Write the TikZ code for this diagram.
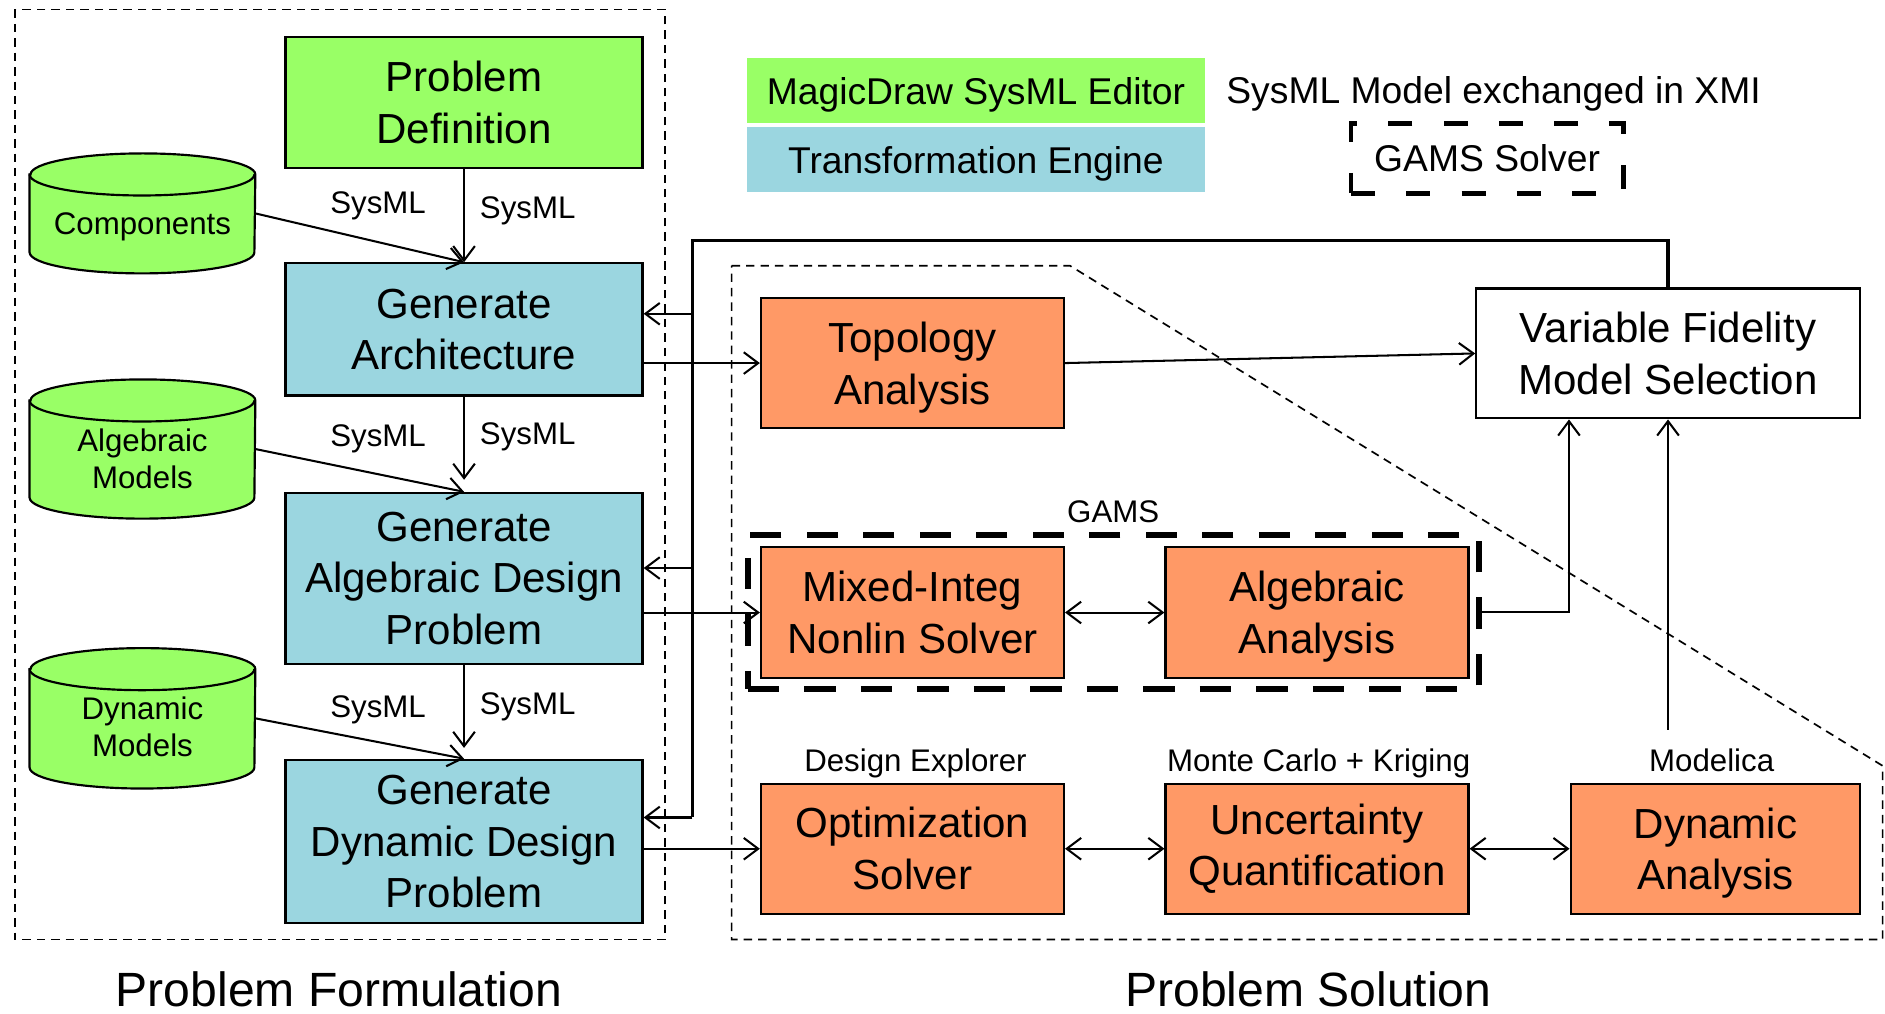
\documentclass[tikz,border=0pt]{standalone}
\usepackage{fontspec}
\setmainfont{Liberation Sans}
\usetikzlibrary{arrows.meta}
\definecolor{editorgreen}{RGB}{153,255,102}
\definecolor{engineblue}{RGB}{155,214,224}
\definecolor{solverorange}{RGB}{255,153,102}
\newcommand\bigfont{\fontsize{17.5pt}{21.5pt}\selectfont}
\newcommand\smallfont{\fontsize{13pt}{15.5pt}\selectfont}
\newcommand\legendfont{\fontsize{15.5pt}{18.5pt}\selectfont}
\newcommand\titlefont{\fontsize{20pt}{24pt}\selectfont}

\tikzset{
  >={Straight Barb[length=6pt,width=9pt]},
  block/.style={draw, line width=0.9pt, inner sep=0pt, align=center, font=\bigfont},
  engine/.style={block, fill=engineblue, minimum width=148.5pt},
  solver/.style={block, fill=solverorange, minimum width=126pt, minimum height=54pt},
  flow/.style={line width=0.85pt, ->},
  twoway/.style={line width=0.85pt, <->},
  loopline/.style={line width=1.3pt},
  areaframe/.style={dash pattern=on 3.5pt off 2.5pt, line width=0.7pt},
  gamsframe/.style={draw, dash pattern=on 13pt off 10.5pt, line width=2.4pt, inner sep=0pt},
  tag/.style={font=\smallfont, anchor=base, inner sep=0pt},
  store/.style={inner sep=0pt, minimum width=93.5pt},
  storeline/.style={fill=editorgreen, draw, line width=0.9pt},
  legendbox/.style={minimum width=190.5pt, minimum height=26.75pt, font=\legendfont, inner sep=0pt, text depth=0pt},
  title/.style={font=\titlefont, anchor=base, inner sep=0pt},
}

% data store drawn as a cylinder: name, centre, height, label shift, text
\newcommand\datastore[5]{%
  \node[store, minimum height=#3] (#1) at #2 {};
  \filldraw[storeline] ([yshift=-8.75pt]#1.north west) -- ([yshift=8.75pt]#1.south west)
     arc[start angle=180, end angle=360, x radius=46.75pt, y radius=8.75pt]
     -- ([yshift=-8.75pt]#1.north east)
     arc[start angle=0, end angle=180, x radius=46.75pt, y radius=8.75pt] -- cycle;
  \draw[line width=0.9pt] ([yshift=-8.75pt]#1.north west)
     arc[start angle=180, end angle=360, x radius=46.75pt, y radius=8.75pt];
  \node[font=\smallfont, align=center, inner sep=0pt] (#1-text) at ([yshift=-#4]#1.center) {#5};
}

\begin{document}
\begin{tikzpicture}[x=0.5pt, y=-0.5pt]
\useasboundingbox (0,0) rectangle (1568,843);

% --- areas ---
\draw[areaframe] (12.3,7.8) rectangle (553.3,781.5);
\draw[areaframe] (608.6,221) -- (890,221) -- (1566,637) -- (1566,781.5) -- (608.6,781.5) -- cycle;

% --- problem formulation ---
\node[block, fill=editorgreen, minimum width=148.5pt, minimum height=54.5pt] (probdef) at (386,85.5) {Problem\\Definition};
\node[engine, minimum height=55pt] (genarch) at (386,274) {Generate\\Architecture};
\node[engine, minimum height=71pt] (genalg) at (386,481) {Generate\\Algebraic Design\\Problem};
\node[engine, minimum height=68pt] (gendyn) at (386,700) {Generate\\Dynamic Design\\Problem};

\datastore{components}{(118.5,177.5)}{49.5pt}{5.75pt}{Components}
\datastore{algmodels}{(118.5,373.5)}{57.5pt}{4pt}{Algebraic\\Models}
\datastore{dynmodels}{(118.5,597.5)}{58pt}{3.5pt}{Dynamic\\Models}

\draw[flow] (probdef.south) -- (genarch.north);
\draw[flow] (components.east) -- (genarch.north);
\draw[flow, shorten >=5pt] (genarch.south) -- (genalg.north);
\draw[flow] (algmodels.east) -- (genalg.north);
\draw[flow, shorten >=4.5pt] (genalg.south) -- (gendyn.north);
\draw[flow] (dynmodels.east) -- (gendyn.north);

\node[tag] (sysml1a) at (314.5,177.4) {SysML};
\node[tag] (sysml1b) at (439,181.6) {SysML};
\node[tag] (sysml2a) at (314.5,371.5) {SysML};
\node[tag] (sysml2b) at (439,370.1) {SysML};
\node[tag] (sysml3a) at (314.5,597.2) {SysML};
\node[tag] (sysml3b) at (439,594.4) {SysML};

% --- legend ---
\node[legendbox, fill=editorgreen] (legeditor) at (811.8,75.3) {MagicDraw SysML Editor};
\node[legendbox, fill=engineblue] (legengine) at (811.8,132.7) {Transformation Engine};
\node[font=\legendfont, anchor=base, inner sep=0pt] (legxmi) at (1242.4,86) {SysML Model exchanged in XMI};
\node[draw, line width=2pt, dash pattern=on 10pt off 13pt, minimum width=113.25pt, minimum height=29pt,
      font=\legendfont, text depth=0pt, inner sep=0pt] (leggams) at (1237,131.7) {GAMS Solver};

% --- problem solution ---
\node[solver] (topo) at (759,302) {Topology\\\smash{Analysis}};
\node[block, fill=white, minimum width=159.5pt, minimum height=54pt] (vfms) at (1387.5,294) {Variable Fidelity\\Model Selection};
\node[solver, minimum height=54.5pt] (mixed) at (759,509.5) {Mixed-Integ\\Nonlin Solver};
\node[solver, minimum height=54.5pt] (algan) at (1095.5,509.5) {Algebraic\\\smash{Analysis}};
\node[solver] (optim) at (759,706) {Optimization\\Solver};
\node[solver] (uq) at (1095.5,706) {Uncertainty\\Quantification};
\node[solver, minimum width=120.5pt] (dynan) at (1427,706) {Dynamic\\\smash{Analysis}};
\node[gamsframe, minimum width=304pt, minimum height=64pt] (gams) at (926,509) {};

\node[tag] (gamslabel) at (926,434.9) {GAMS};
\node[tag] (explorer) at (761.5,642) {Design Explorer};
\node[tag] (kriging) at (1096.9,642) {Monte Carlo + Kriging};
\node[tag] (modelica) at (1423.8,642) {Modelica};

% --- feedback loop from model selection ---
\coordinate (looptop) at (576,200);
\coordinate (fbarch) at (576,261);
\coordinate (fbalg) at (576,472.5);
\coordinate (fbdyn) at (576,680);
\draw[loopline] (vfms.north) |- (looptop) -- (fbdyn);
\draw[flow] (fbarch) -- (fbarch -| genarch.east);
\draw[flow] (fbalg) -- (fbalg -| genalg.east);
\draw[flow] (fbdyn) -- (fbdyn -| gendyn.east);

% --- forward flows ---
\draw[flow] (genarch.east |- topo.west) -- (topo.west);
\draw[flow] (genalg.east |- mixed.west) -- (mixed.west);
\draw[flow] (gendyn.east |- optim.west) -- (optim.west);
\draw[flow] (topo.east) -- (vfms.west);
\draw[twoway] (mixed.east) -- (algan.west);
\draw[twoway] (optim.east) -- (uq.west);
\draw[twoway] (uq.east) -- (dynan.west);
\draw[flow] (gams.east) -| ([xshift=39pt]vfms.south west);
\coordinate (modelicaout) at (1387.5,607);
\draw[flow] (modelicaout) -- (vfms.south);

% --- titles ---
\node[title] (formtitle) at (282,837) {Problem Formulation};
\node[title] (soltitle) at (1088.4,837) {Problem Solution};
\end{tikzpicture}
\end{document}
